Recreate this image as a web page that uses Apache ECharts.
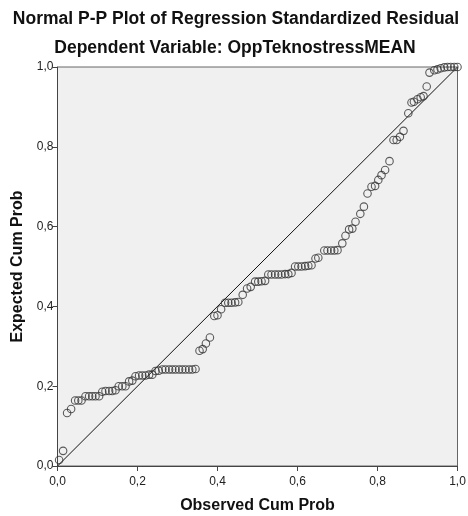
<!DOCTYPE html>
<html><head><meta charset="utf-8">
<script src="https://cdn.jsdelivr.net/npm/echarts@6/dist/echarts.min.js"></script>
<style>html,body{margin:0;padding:0;background:#fff}#c{width:468px;height:516px}</style>
</head><body><div id="c"></div>
<script>
const titleText = "Normal P-P Plot of Regression Standardized Residual";
const subtitleText = "Dependent Variable: OppTeknostressMEAN";
const xAxisName = "Observed Cum Prob";
const yAxisName = "Expected Cum Prob";
const tickValues = [0, 0.2, 0.4, 0.6, 0.8, 1.0];
const observed = [.004,.014,.024,.034,.044,.052,.060,.070,.079,.087,.095,.104,.112,.120,.129,.137,.145,.153,.162,.170,.179,.187,.195,.204,.212,.220,.229,.237,.245,.253,.262,.270,.279,.287,.295,.304,.312,.320,.329,.337,.345,.355,.363,.371,.381,.392,.400,.409,.419,.427,.435,.444,.452,.463,.474,.483,.494,.502,.510,.519,.527,.535,.544,.552,.560,.569,.577,.585,.594,.602,.610,.619,.627,.635,.645,.652,.667,.675,.684,.692,.700,.712,.720,.729,.737,.745,.757,.766,.775,.785,.794,.802,.810,.819,.830,.840,.848,.856,.865,.877,.885,.891,.900,.908,.915,.923,.930,.942,.950,.958,.967,.975,.983,.992,1.0];
const expected = [.015,.038,.133,.143,.164,.164,.164,.175,.175,.175,.175,.175,.186,.188,.188,.188,.190,.200,.200,.200,.212,.214,.225,.227,.227,.227,.229,.229,.238,.239,.242,.242,.242,.242,.242,.242,.242,.242,.242,.242,.243,.289,.293,.307,.322,.376,.378,.393,.409,.409,.409,.410,.411,.429,.445,.449,.462,.462,.463,.464,.480,.480,.480,.480,.480,.481,.481,.484,.500,.500,.500,.501,.502,.503,.520,.522,.540,.540,.540,.540,.541,.558,.577,.593,.595,.612,.632,.650,.683,.700,.702,.717,.729,.742,.764,.817,.817,.825,.840,.884,.911,.913,.919,.924,.927,.951,.986,.992,.994,.997,.999,1.0,1.0,1.0,1.0];
const refLine = [[0,0],[1,1]];

const pts = observed.map((x,i)=>[x, expected[i]]);
const chart = echarts.init(document.getElementById('c'), null, {renderer:'canvas'});
const fmt = v => v.toFixed(1).replace('.', ',');
const FF = 'Liberation Sans, Arial';
const axisCommon = {
  min: 0, max: 1, interval: 0.2,
  axisLine: {show:true, lineStyle:{color:'#444', width:1}},
  axisTick: {show:true, length:5, lineStyle:{color:'#444'}},
  splitLine: {show:false},
  axisLabel: {formatter: fmt, color:'#222', fontSize:12, fontFamily:FF},
  nameTextStyle: {color:'#111', fontSize:16, fontWeight:'bold', fontFamily:FF}
};
chart.setOption({
  animation:false,
  backgroundColor:'#fff',
  title:[
    {text:titleText, left:231, top:5, textAlign:'center',
     textStyle:{fontSize:17.5, fontWeight:'bold', color:'#111', fontFamily:FF}},
    {text:subtitleText, left:230, top:34, textAlign:'center',
     textStyle:{fontSize:17.5, fontWeight:'bold', color:'#111', fontFamily:FF}}
  ],
  grid:{left:57.5, top:67, width:400, height:399, show:true, backgroundColor:'#f0f0f0', borderColor:'#666', borderWidth:1,
        containLabel:false, outerBoundsMode:'none'},
  xAxis: Object.assign({}, axisCommon, {type:'value', name:xAxisName, nameLocation:'middle', nameGap:32,
    axisLabel: Object.assign({}, axisCommon.axisLabel, {margin:10})}),
  yAxis: Object.assign({}, axisCommon, {type:'value', name:yAxisName, nameLocation:'middle', nameGap:32,
    axisLabel: Object.assign({}, axisCommon.axisLabel, {margin:4})}),
  series:[
    {type:'line', data:refLine, symbol:'none', lineStyle:{color:'#111', width:1}, z:1},
    {type:'scatter', data:pts, symbol:'circle', symbolSize:7.5,
     itemStyle:{color:'rgba(0,0,0,0)', borderColor:'#333', borderWidth:1.1}, z:2}
  ]
});
</script></body></html>
